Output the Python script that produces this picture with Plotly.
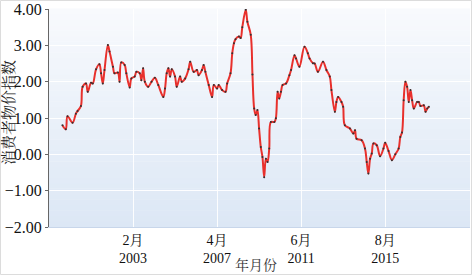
import plotly.graph_objects as go

months = ["1999-08","1999-10","1999-11","2000-02","2000-04","2000-05","2000-07","2000-08","2000-10","2000-11",
"2001-01","2001-02","2001-04","2001-06","2001-07","2001-08","2001-09","2001-11","2001-12",
"2002-02","2002-03","2002-05","2002-06","2002-07","2002-09","2002-10","2002-12",
"2003-01","2003-03","2003-04","2003-06","2003-07","2003-08","2003-09","2003-11",
"2004-01","2004-03","2004-05","2004-08","2004-09","2004-10","2004-11","2004-12",
"2005-01","2005-03","2005-04","2005-06","2005-07","2005-09","2005-11","2005-12",
"2006-02","2006-04","2006-05","2006-07","2006-08","2006-09","2006-11",
"2007-01","2007-02","2007-04","2007-05","2007-07","2007-09","2007-10","2007-12",
"2008-01","2008-02","2008-03","2008-05","2008-06","2008-07","2008-09","2008-10","2008-12",
"2009-01","2009-02","2009-03","2009-04","2009-05","2009-06","2009-07","2009-08","2009-09","2009-10","2009-11","2009-12",
"2010-02","2010-03","2010-04","2010-05","2010-06","2010-07","2010-09","2010-11","2010-12",
"2011-02","2011-03","2011-05","2011-08","2011-10","2011-11",
"2012-01","2012-02","2012-04","2012-07","2012-09","2012-11","2012-12",
"2013-02","2013-03","2013-04","2013-06","2013-07","2013-08","2013-11",
"2014-01","2014-02","2014-03","2014-06","2014-08","2014-09","2014-10","2014-11","2014-12",
"2015-01","2015-03","2015-05","2015-07","2015-08","2015-10","2015-12",
"2016-02","2016-04","2016-05","2016-06","2016-07","2016-08","2016-09","2016-10","2016-11","2016-12",
"2017-01","2017-03","2017-04","2017-05","2017-07","2017-08","2017-09","2017-10"]

cpi = [0.80,0.69,1.05,0.87,1.12,1.19,1.33,1.86,1.95,1.72,
1.97,1.95,2.34,2.48,2.23,1.95,2.32,3.01,2.83,
2.41,2.23,2.25,2.00,2.53,2.46,2.23,1.84,
2.09,2.14,2.27,2.23,2.04,2.37,2.00,1.86,
2.00,2.11,1.91,1.58,1.81,2.23,2.37,2.14,
2.34,2.14,1.86,2.14,2.00,2.09,2.34,2.55,
2.27,2.32,2.18,2.32,2.46,2.27,1.91,
1.58,1.91,1.81,1.91,1.77,1.72,1.95,2.23,
2.78,3.06,3.17,3.24,3.20,3.50,3.98,3.65,3.29,
2.20,1.26,1.08,1.22,0.71,0.20,-0.07,-0.63,-0.12,-0.21,0.16,0.89,
0.89,0.99,1.72,1.54,1.72,1.91,1.95,2.18,2.32,
2.73,2.64,2.41,2.96,2.78,2.64,
2.51,2.50,2.27,2.55,2.32,2.14,1.77,
1.17,1.44,1.58,1.44,1.31,0.80,0.71,
0.57,0.66,0.43,0.39,0.16,-0.21,-0.53,-0.12,0.02,
0.30,0.25,-0.05,0.16,0.32,0.09,-0.16,
0.00,0.16,0.48,0.60,1.49,2.00,1.86,1.44,1.77,1.49,
1.26,1.44,1.44,1.33,1.35,1.17,1.26,1.31]

tick_vals = ["2003-02-01", "2007-04-01", "2011-06-01", "2015-08-01"]
tick_text = ["2月<br>2003", "4月<br>2007", "6月<br>2011", "8月<br>2015"]
y_ticks = [-2, -1, 0, 1, 2, 3, 4]

x_dates = [m + "-01" for m in months]

fig = go.Figure()
fig.add_trace(go.Scatter(
    x=x_dates, y=cpi, mode="lines+markers",
    line=dict(color="#e8302c", width=2, shape="spline", smoothing=1.0),
    marker=dict(color="#333333", size=2),
    hoverinfo="x+y", showlegend=False))

# background gradient bands
shapes = []
n = 40
top = (248, 250, 253)
bot = (220, 231, 245)
for i in range(n):
    t = (i + 0.5) / n
    c = tuple(int(round(bot[k] + (top[k] - bot[k]) * t)) for k in range(3))
    shapes.append(dict(type="rect", xref="x domain", yref="y domain",
                       x0=0, x1=1, y0=i / n, y1=(i + 1) / n + 0.002,
                       fillcolor="rgb(%d,%d,%d)" % c, line=dict(width=0), layer="below"))
# outer frame
shapes.append(dict(type="rect", xref="paper", yref="paper",
                   x0=-48.5 / 421, x1=422.5 / 421, y0=(227 - 274.5) / 218, y1=(227 - 0.5) / 218,
                   line=dict(color="#dcdcdc", width=1), fillcolor="rgba(0,0,0,0)", layer="above"))

serif = "Liberation Serif, Times New Roman, Noto Serif CJK SC, Noto Sans CJK SC, serif"

annotations = [
    dict(text="消费者物价指数", xref="paper", yref="paper", x=(8 - 49) / 421, y=(227 - 113) / 218,
         textangle=-90, showarrow=False, xanchor="center", yanchor="middle",
         font=dict(family=serif, size=15, color="#222222")),
    dict(text="年月份", xref="paper", yref="paper", x=(256 - 49) / 421, y=(227 - 265) / 218,
         showarrow=False, xanchor="center", yanchor="middle",
         font=dict(family=serif, size=14, color="#333333")),
]

fig.update_layout(
    width=472, height=275,
    margin=dict(l=49, r=2, t=9, b=48, autoexpand=False),
    paper_bgcolor="white", plot_bgcolor="rgba(0,0,0,0)",
    shapes=shapes, annotations=annotations,
    font=dict(family=serif, size=14, color="#111111"),
    xaxis=dict(type="date", range=["1998-12-01", "2019-10-15"], automargin=False,
               tickmode="array", tickvals=tick_vals, ticktext=tick_text,
               showgrid=True, gridcolor="rgba(255,255,255,0.9)", gridwidth=1,
               showline=True, linecolor="#c8d6ea", linewidth=1,
               ticks="", tickfont=dict(family=serif, size=14, color="#111111")),
    yaxis=dict(range=[-2, 4], tickmode="array", tickvals=y_ticks, tickformat=".2f", automargin=False,
               showgrid=True, gridcolor="rgba(255,255,255,0.95)", gridwidth=1, zeroline=False,
               showline=True, linecolor="#666666", linewidth=1,
               ticks="outside", ticklen=3, tickcolor="#666666",
               tickfont=dict(family=serif, size=16, color="#111111")),
)

fig.write_html("out.html", config={"displayModeBar": False},
               post_script="document.body.style.margin='0';document.body.style.padding='0';")
